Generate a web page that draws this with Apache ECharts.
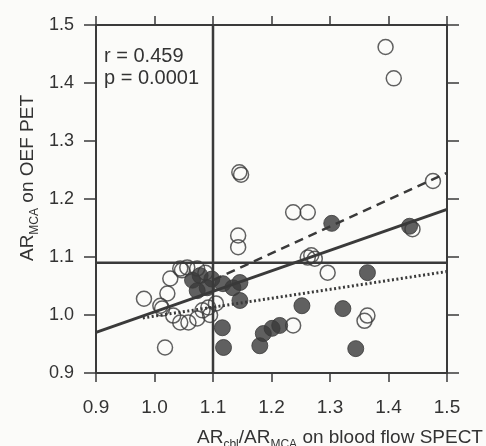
<!DOCTYPE html>
<html><head><meta charset="utf-8">
<script src="https://cdn.jsdelivr.net/npm/echarts@6/dist/echarts.min.js"></script>
<style>html,body{margin:0;padding:0;background:#fbfbf9}#c{width:486px;height:446px}</style>
</head><body><div id="c"></div>
<script>
var xTicks = [0.9, 1.0, 1.1, 1.2, 1.3, 1.4, 1.5];
var yTicks = [0.9, 1.0, 1.1, 1.2, 1.3, 1.4, 1.5];
var openPts = [
  [1.395,1.462],[1.409,1.408],[1.476,1.231],[1.145,1.246],[1.148,1.242],
  [1.143,1.137],[1.143,1.117],[1.237,1.177],[1.262,1.177],[1.262,1.099],
  [1.274,1.097],[1.268,1.103],[1.296,1.073],[1.441,1.148],[1.364,0.999],
  [1.359,0.990],[1.237,0.982],[0.982,1.028],[1.018,0.944],[1.022,1.037],
  [1.027,1.063],[1.047,1.077],[1.013,1.011],[1.032,0.999],[1.044,0.987],
  [1.058,0.987],[1.073,0.994],[1.082,1.008],[1.092,1.013],[1.044,1.080],
  [1.056,1.082],[1.073,1.080],[1.087,1.073],[1.095,1.000],[1.105,1.020],
  [1.010,1.016]
];
var filledPts = [
  [1.303,1.158],[1.436,1.153],[1.364,1.073],[1.252,1.016],[1.322,1.011],
  [1.344,0.942],[1.180,0.947],[1.186,0.968],[1.201,0.977],[1.214,0.982],
  [1.116,0.978],[1.118,0.944],[1.065,1.060],[1.078,1.068],[1.073,1.042],
  [1.090,1.047],[1.117,1.054],[1.134,1.047],[1.146,1.056],[1.146,1.025],
  [1.098,1.062]
];
var solidFit = [[0.9,0.970],[1.5,1.182]];
var dashedFit = [[1.1,1.060],[1.5,1.245]];
var dottedFit = [[0.98,0.995],[1.5,1.075]];
var vLine = [[1.1,0.9],[1.1,1.5]];
var hLine = [[0.9,1.09],[1.5,1.09]];
var statsText = ['r = 0.459', 'p = 0.0001'];

var ink = '#3a3a3a';
var font = 'Liberation Sans, Arial, sans-serif';
var chart = echarts.init(document.getElementById('c'));
function xAxisDef(pos, show) {
  return {type:'value', position:pos, min:0.9, max:1.5, interval:0.1,
    axisLine:{show:true, onZero:false, lineStyle:{color:ink, width:2}},
    axisTick:{show:true, length:9, lineStyle:{color:ink, width:1.5}},
    axisLabel:{show:show, color:'#333', fontSize:19, fontFamily:font, margin:25,
      formatter:function(v){return v.toFixed(1);}},
    splitLine:{show:false}};
}
function yAxisDef(pos, show) {
  return {type:'value', position:pos, min:0.9, max:1.5, interval:0.1,
    axisLine:{show:true, onZero:false, lineStyle:{color:ink, width:2}},
    axisTick:{show:true, length:12, lineStyle:{color:ink, width:1.5}},
    axisLabel:{show:show, color:'#333', fontSize:18, fontFamily:font, margin:22,
      formatter:function(v){return v.toFixed(1);}},
    splitLine:{show:false}};
}
function lineSeries(data, type, w) {
  return {type:'line', data:data, symbol:'none', silent:true, z:2,
    lineStyle:{color:ink, width:w, type:type}};
}
var richStyle = {
  a:{fontSize:19, fontFamily:font, fill:'#333', lineHeight:24, verticalAlign:'bottom'},
  s:{fontSize:12, fontFamily:font, fill:'#333', lineHeight:16, verticalAlign:'bottom', padding:[0,0,-4,0]}
};
chart.setOption({
  backgroundColor:'#fbfbf9',
  animation:false,
  grid:{left:96, right:39, top:25, bottom:73},
  xAxis:[xAxisDef('bottom', true), xAxisDef('top', false)],
  yAxis:[yAxisDef('left', true), yAxisDef('right', false)],
  series:[
    lineSeries(vLine, 'solid', 2.5),
    lineSeries(hLine, 'solid', 2.5),
    lineSeries(solidFit, 'solid', 3),
    lineSeries(dashedFit, [9,6], 2.5),
    lineSeries(dottedFit, [2,2.5], 3),
    {type:'scatter', data:openPts, symbol:'circle', symbolSize:15, z:3,
      itemStyle:{color:'rgba(0,0,0,0)', borderColor:ink, borderWidth:1.5}},
    {type:'scatter', data:filledPts, symbol:'circle', symbolSize:16, z:4,
      itemStyle:{color:ink, borderColor:ink, borderWidth:1}}
  ],
  graphic:[
    {type:'text', left:104, top:45, style:{text:statsText.join('\n'), font:'20px '+font, fill:'#333', lineHeight:22}},
    {type:'text', x:25, y:178, rotation:Math.PI/2, style:{
      text:'{a|AR}{s|MCA}{a| on OEF PET}', align:'center', verticalAlign:'middle', rich:richStyle}},
    {type:'text', x:340, y:435, style:{
      text:'{a|AR}{s|cbl}{a|/AR}{s|MCA}{a| on blood flow SPECT}', align:'center', verticalAlign:'middle', rich:richStyle}}
  ]
});
</script></body></html>
